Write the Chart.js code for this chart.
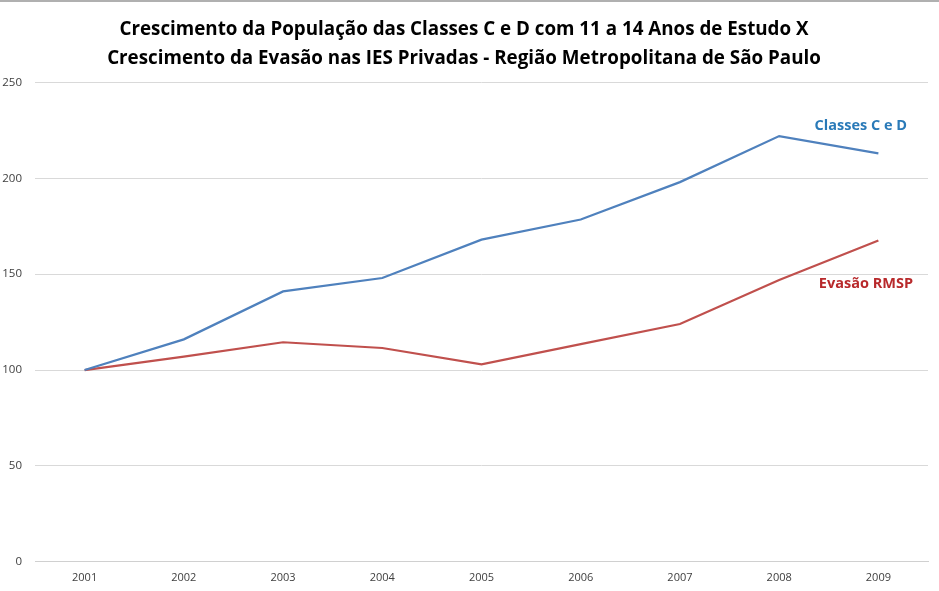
<!DOCTYPE html>
<html>
<head>
<meta charset="utf-8">
<script src="https://cdn.jsdelivr.net/npm/chart.js@4.4.0/dist/chart.umd.min.js"></script>
<style>
  html, body { margin: 0; padding: 0; background: #fff; }
  #wrap { width: 939px; height: 591px; position: relative; }
  #borda { position: absolute; left: 0; top: 0; width: 939px; height: 0; border-top: 2px solid #b0b0b0; }
</style>
</head>
<body>
<div id="wrap"><canvas id="grafico" width="939" height="591"></canvas><div id="borda"></div></div>
<script>
// dados
const anos = ['2001', '2002', '2003', '2004', '2005', '2006', '2007', '2008', '2009'];
const classesCD = [100, 116, 141, 148, 168, 178.5, 198, 222, 213];
const evasaoRMSP = [100, 107, 114.5, 111.5, 103, 113.5, 124, 147, 167.5];
const titulo = [
    'Crescimento da População das Classes C e D com 11 a 14 Anos de Estudo X',
    'Crescimento da Evasão nas IES Privadas - Região Metropolitana de São Paulo'
];

// rótulos ao lado das linhas (no fim de cada série)
const rotulos = {
    id: 'rotulos',
    afterDatasetsDraw(chart) {
        const ctx = chart.ctx;
        const y = chart.scales.y;
        ctx.save();
        ctx.font = 'bold 14.5px "Open Sans", sans-serif';
        ctx.textAlign = 'right';
        ctx.textBaseline = 'middle';
        ctx.fillStyle = '#2A7AB8';
        ctx.fillText('Classes C e D', 907, y.getPixelForValue(classesCD[8]) - 27);
        ctx.fillStyle = '#B8292B';
        ctx.fillText('Evasão RMSP', 913, y.getPixelForValue(evasaoRMSP[8]) + 43);
        ctx.restore();
    }
};

const ctx = document.getElementById('grafico').getContext('2d');
const grafico = new Chart(ctx, {
    type: 'line',
    data: {
        labels: anos,
        datasets: [{
            label: 'Classes C e D',
            data: classesCD,
            borderColor: '#4F81BD',
            borderWidth: 2.2,
            pointRadius: 0,
            tension: 0
        }, {
            label: 'Evasão RMSP',
            data: evasaoRMSP,
            borderColor: '#C0504D',
            borderWidth: 2.2,
            pointRadius: 0,
            tension: 0
        }]
    },
    options: {
        responsive: false,
        animation: false,
        layout: { padding: { left: 0, right: 11, top: 0, bottom: -2 } },
        plugins: {
            legend: { display: false },
            tooltip: { enabled: false },
            title: {
                display: true,
                text: titulo,
                color: '#000',
                font: { family: '"Open Sans", sans-serif', size: 18.8, weight: 'bold', lineHeight: 1.5 },
                padding: { top: 16, bottom: 10 }
            }
        },
        scales: {
            x: {
                offset: true,
                grid: { display: false, drawTicks: false },
                border: { color: '#d0d0d0' },
                ticks: { color: '#404040', font: { family: '"Open Sans", sans-serif', size: 11 }, padding: 9 }
            },
            y: {
                min: 0,
                max: 250,
                afterFit(scale) { scale.width = 35; },
                ticks: { stepSize: 50, color: '#404040', font: { family: '"Open Sans", sans-serif', size: 11.5 }, padding: 13 },
                grid: { color: '#d9d9d9', drawTicks: false },
                border: { display: false }
            }
        }
    },
    plugins: [rotulos]
});
</script>
</body>
</html>
